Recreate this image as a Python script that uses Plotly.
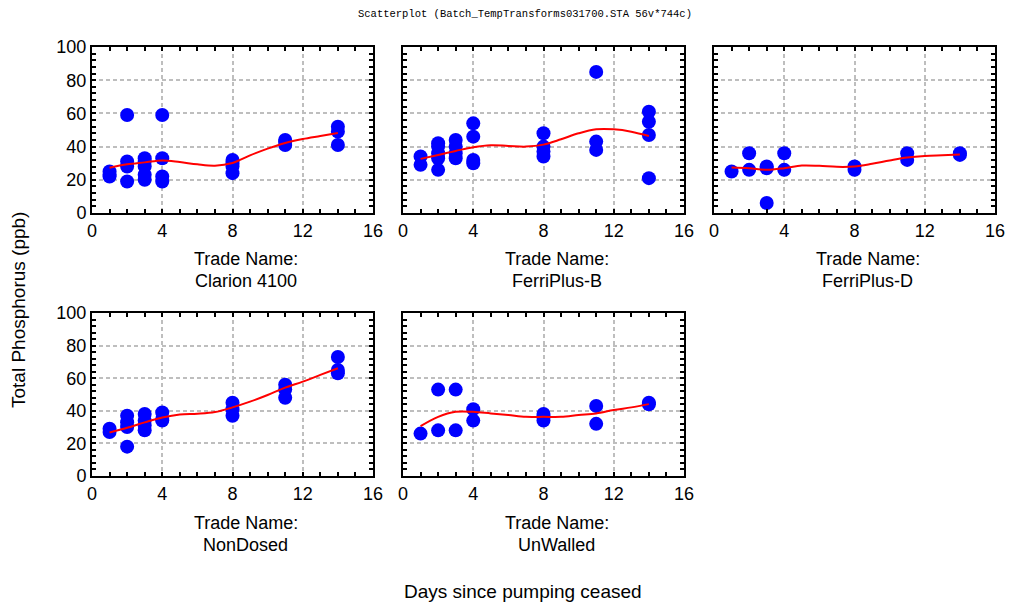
import plotly.graph_objects as go

# ---------------- data ----------------
groups = ["Clarion 4100", "FerriPlus-B", "FerriPlus-D", "NonDosed", "UnWalled"]

clarion_x = [1, 1, 1, 2, 2, 2, 2, 3, 3, 3, 3, 3, 4, 4, 4, 4, 8, 8, 8, 8, 11, 11, 11, 14, 14, 14]
clarion_y = [25, 23, 22, 59, 31, 28, 19, 33, 31, 28, 23, 20, 59, 33, 22, 19, 32, 30, 28, 24, 44, 43, 41, 52, 49, 41]

ferriB_x = [1, 1, 2, 2, 2, 2, 2, 3, 3, 3, 3, 4, 4, 4, 4, 8, 8, 8, 8, 11, 11, 11, 14, 14, 14, 14]
ferriB_y = [34, 29, 42, 40, 36, 33, 26, 44, 40, 36, 33, 54, 46, 32, 30, 48, 40, 37, 34, 85, 43, 38, 61, 55, 47, 21]

ferriD_x = [1, 2, 2, 3, 3, 3, 4, 4, 8, 8, 11, 11, 14, 14]
ferriD_y = [25, 36, 26, 28, 27, 6, 36, 26, 28, 26, 36, 32, 36, 35]

nondosed_x = [1, 1, 2, 2, 2, 2, 3, 3, 3, 3, 4, 4, 4, 8, 8, 8, 11, 11, 11, 14, 14, 14]
nondosed_y = [29, 27, 37, 33, 30, 18, 38, 34, 31, 28, 39, 35, 34, 45, 41, 37, 56, 53, 48, 73, 65, 63]

unwalled_x = [1, 2, 2, 3, 3, 4, 4, 8, 8, 8, 11, 11, 14, 14]
unwalled_y = [26, 53, 28, 53, 28, 41, 34, 38, 36, 34, 43, 32, 45, 44]

# smoothed fit
fit_x = [1, 2, 3, 4, 5, 6, 7, 8, 9, 10, 11, 12, 13, 14]
clarion_fit = [27.3, 29.3, 30.5, 31.7, 30.7, 29.3, 28.5, 30.1, 34.7, 38.8, 42.2, 44.6, 46.4, 48.2]
ferriB_fit = [32.6, 35.0, 37.4, 39.6, 40.8, 40.4, 40.0, 41.2, 44.4, 48.0, 50.4, 50.4, 49.0, 46.4]
ferriD_fit = [27.4, 27.0, 26.0, 27.0, 28.6, 28.4, 27.8, 28.0, 29.6, 31.6, 33.4, 34.4, 34.8, 35.2]
nondosed_fit = [26.7, 29.6, 32.9, 35.9, 37.8, 38.2, 39.2, 42.1, 45.6, 49.7, 54.2, 57.9, 62.0, 66.1]
unwalled_fit = [30.6, 36.3, 39.4, 39.4, 38.4, 37.4, 36.3, 36.3, 36.3, 37.4, 38.4, 40.5, 42.1, 44.1]

x_ticks = [0, 4, 8, 12, 16]
y_ticks = [0, 20, 40, 60, 80, 100]

title_text = "Scatterplot (Batch_TempTransforms031700.STA 56v*744c)"
x_title = "Days since pumping ceased"
y_title = "Total Phosphorus (ppb)"
panel_label = "Trade Name:"

points = [(clarion_x, clarion_y), (ferriB_x, ferriB_y), (ferriD_x, ferriD_y),
          (nondosed_x, nondosed_y), (unwalled_x, unwalled_y)]
fits = [clarion_fit, ferriB_fit, ferriD_fit, nondosed_fit, unwalled_fit]

# ---------------- layout helpers ----------------
# the page body has an 8px margin, so the figure is made 8px smaller
# and every target pixel position is shifted by that offset
OFF = 8
W, H = 1013 - OFF, 603 - OFF
col_px = [(92, 373), (403, 684), (714, 995)]
row_px = [(47, 213), (313, 476)]
label_y_px = [(259, 281), (523, 545)]

def px_x(p):
    return (p - OFF) / W

def px_y(p):
    return 1 - (p - OFF) / H

FONT = "Liberation Sans, Arial, sans-serif"

fig = go.Figure()
annotations = []
layout_axes = {}

for i, g in enumerate(groups):
    r, c = divmod(i, 3)
    n = i + 1
    xa = "x" if n == 1 else f"x{n}"
    ya = "y" if n == 1 else f"y{n}"
    px, py = points[i]
    fig.add_trace(go.Scatter(x=px, y=py, mode="markers", xaxis=xa, yaxis=ya,
                             marker=dict(size=14, color="#0000FF", line=dict(width=0)),
                             showlegend=False, hoverinfo="x+y"))
    fig.add_trace(go.Scatter(x=fit_x, y=fits[i], mode="lines", xaxis=xa, yaxis=ya,
                             line=dict(color="#FF0000", width=2, shape="spline"),
                             showlegend=False, hoverinfo="skip"))
    x0, x1 = col_px[c]
    y0, y1 = row_px[r]
    common = dict(showline=True, linecolor="black", linewidth=2, mirror="allticks",
                  ticks="inside", ticklen=4, tickwidth=1.5, tickcolor="black",
                  showgrid=True, gridcolor="#BEBEBE", griddash="4px,3px", gridwidth=1.5,
                  zeroline=False, automargin=False,
                  tickfont=dict(family=FONT, size=18, color="black"))
    layout_axes["xaxis" if n == 1 else f"xaxis{n}"] = dict(
        domain=[px_x(x0), px_x(x1)], range=[0, 16], tickvals=x_ticks,
        anchor=ya, minor=dict(dtick=1, ticks="inside", ticklen=4, tickcolor="black", showgrid=False),
        **common)
    layout_axes["yaxis" if n == 1 else f"yaxis{n}"] = dict(
        domain=[px_y(y1), px_y(y0)], range=[0, 100], tickvals=y_ticks,
        showticklabels=(c == 0), anchor=xa,
        minor=dict(dtick=4, ticks="inside", ticklen=4, tickcolor="black", showgrid=False),
        **common)
    cx = (x0 + x1) / 2 + 13
    l1, l2 = label_y_px[r]
    annotations.append(dict(text=panel_label, x=px_x(cx), y=px_y(l1), xref="paper", yref="paper",
                            showarrow=False, xanchor="center", yanchor="middle",
                            font=dict(family=FONT, size=18, color="black")))
    annotations.append(dict(text=g, x=px_x(cx), y=px_y(l2), xref="paper", yref="paper",
                            showarrow=False, xanchor="center", yanchor="middle",
                            font=dict(family=FONT, size=18, color="black")))

annotations.append(dict(text=title_text, x=px_x(525), y=px_y(14), xref="paper", yref="paper",
                        showarrow=False, xanchor="center", yanchor="middle", borderpad=0,
                        font=dict(family="Liberation Mono, Courier New, monospace", size=10.5, color="black")))
annotations.append(dict(text=x_title, x=px_x(523), y=px_y(591), xref="paper", yref="paper",
                        showarrow=False, xanchor="center", yanchor="middle",
                        font=dict(family=FONT, size=19, color="black")))
annotations.append(dict(text=y_title, x=px_x(18), y=px_y(310), xref="paper", yref="paper",
                        showarrow=False, xanchor="center", yanchor="middle", textangle=-90,
                        font=dict(family=FONT, size=19, color="black")))

fig.update_layout(width=W, height=H, margin=dict(l=0, r=0, t=0, b=0, autoexpand=False),
                  paper_bgcolor="white", plot_bgcolor="white",
                  annotations=annotations, **layout_axes)

fig.write_html("out.html")
